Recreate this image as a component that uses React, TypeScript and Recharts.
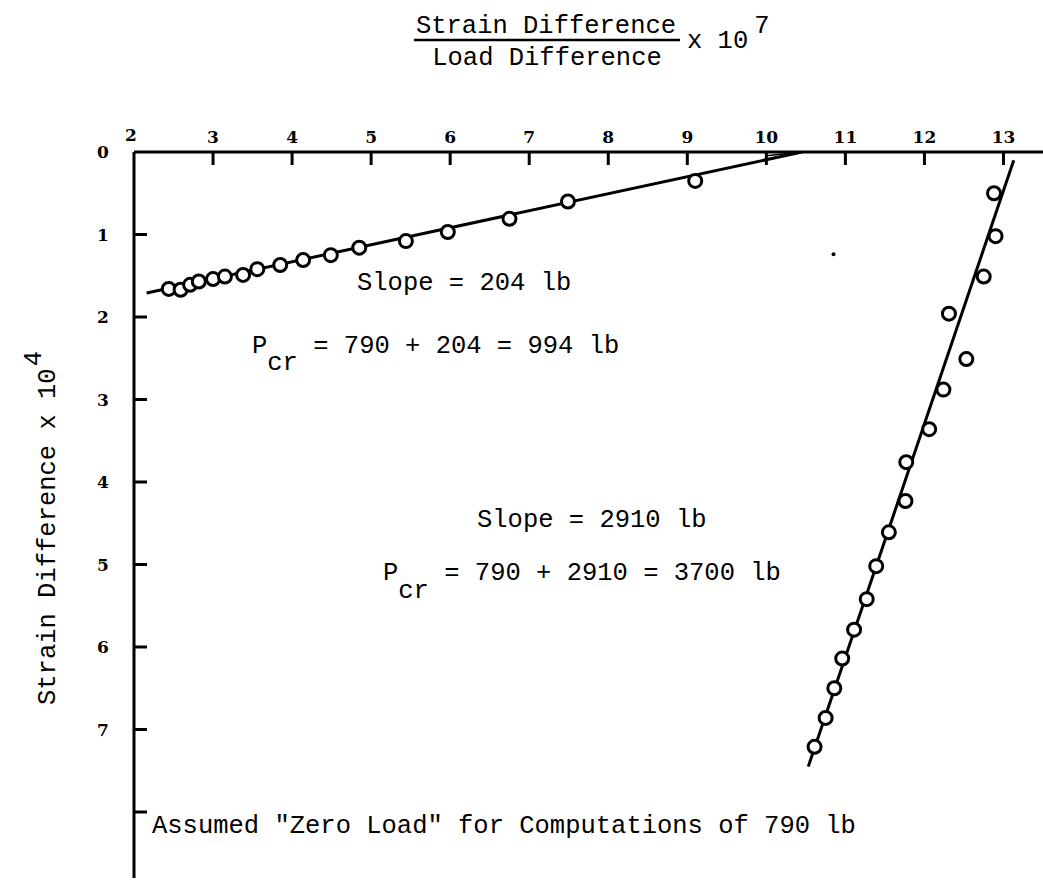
import React from 'react';
import { ComposedChart, XAxis, YAxis, Scatter } from 'recharts';

// ---- axis ticks ----
const xTicks = [2, 3, 4, 5, 6, 7, 8, 9, 10, 11, 12, 13];
const yTicks = [0, 1, 2, 3, 4, 5, 6, 7, 8];
const yTickLabels = ['0', '1', '2', '3', '4', '5', '6', '7', ''];

// ---- low-load branch (Strain diff / Load diff x 1e7 vs Strain diff x 1e4) ----
const lowX = [2.44, 2.59, 2.71, 2.82, 3.0, 3.15, 3.38, 3.56, 3.85, 4.14, 4.49, 4.85, 5.44, 5.97, 6.75, 7.49, 9.1];
const lowY = [1.66, 1.67, 1.61, 1.57, 1.54, 1.51, 1.49, 1.42, 1.37, 1.31, 1.25, 1.16, 1.08, 0.97, 0.81, 0.6, 0.35];
const lowFitX = [2.16, 10.45];
const lowFitY = [1.71, 0];
const lowTipX = [10.0, 10.45];
const lowTipY = [0.045, 0];

// ---- high-load branch ----
const highX = [12.88, 12.9, 12.75, 12.31, 12.53, 12.24, 12.06, 11.77, 11.76, 11.55, 11.39, 11.27, 11.11, 10.96, 10.86, 10.75, 10.61];
const highY = [0.5, 1.02, 1.51, 1.96, 2.51, 2.88, 3.36, 3.76, 4.23, 4.61, 5.02, 5.42, 5.79, 6.14, 6.5, 6.86, 7.21];
const highFitX = [13.13, 10.53];
const highFitY = [0.1, 7.45];

// small speck on the original sheet
const speckX = [10.85];
const speckY = [1.24];

const zip = (xs: number[], ys: number[]) => xs.map((x, i) => ({ x, y: ys[i] }));

const lowPts = zip(lowX, lowY);
const highPts = zip(highX, highY);
const lowFit = zip(lowFitX, lowFitY);
const lowTip = zip(lowTipX, lowTipY);
const highFit = zip(highFitX, highFitY);
const speck = zip(speckX, speckY);

const MONO = '"Liberation Mono", "DejaVu Sans Mono", monospace';
const TICKFONT = '"DejaVu Serif", "Liberation Serif", serif';

const XTick = (props: any) => {
  const { x, y, payload } = props;
  const v = payload.value;
  const first = v === 2;
  return (
    <g>
      {!first && <line x1={x} y1={y} x2={x} y2={y + 13} stroke="#000" strokeWidth={3} />}
      <text
        x={first ? x - 3 : x}
        y={first ? y - 11 : y - 9}
        textAnchor="middle"
        fontFamily={TICKFONT}
        fontWeight="bold"
        fontSize={17}
        fill="#000"
      >
        {v}
      </text>
    </g>
  );
};

const YTick = (props: any) => {
  const { x, y, payload, index } = props;
  const v = payload.value;
  return (
    <g>
      {v !== 0 && <line x1={x} y1={y} x2={x + 13} y2={y} stroke="#000" strokeWidth={3} />}
      <text
        x={x - 31}
        y={y + 6}
        textAnchor="middle"
        fontFamily={TICKFONT}
        fontWeight="bold"
        fontSize={17}
        fill="#000"
      >
        {yTickLabels[index] ?? ''}
      </text>
    </g>
  );
};

const OpenCircle = (props: any) => (
  <circle cx={props.cx} cy={props.cy} r={6.5} fill="#fff" stroke="#000" strokeWidth={3} />
);
const Nothing = () => <g />;
const Speck = (props: any) => <circle cx={props.cx} cy={props.cy} r={2} fill="#000" />;

export default function App() {
  return (
    <div style={{ position: 'absolute', left: 0, top: 0, width: 1043, height: 888, background: '#fff' }}>
      <ComposedChart
        width={1043}
        height={888}
        margin={{ top: 151, right: 0, bottom: 10, left: 133 }}
      >
        <XAxis
          type="number"
          dataKey="x"
          orientation="top"
          domain={[2, 13.5]}
          ticks={xTicks}
          interval={0}
          height={1}
          tickSize={0}
          tickMargin={0}
          tickLine={false}
          axisLine={{ stroke: '#000', strokeWidth: 3 }}
          tick={<XTick />}
          allowDataOverflow
        />
        <YAxis
          type="number"
          dataKey="y"
          reversed
          domain={[0, 8.8]}
          ticks={yTicks}
          interval={0}
          width={1}
          tickSize={0}
          tickMargin={0}
          tickLine={false}
          axisLine={{ stroke: '#000', strokeWidth: 3 }}
          tick={<YTick />}
          allowDataOverflow
        />
        <Scatter data={lowFit} line={{ stroke: '#000', strokeWidth: 3 }} shape={<Nothing />} isAnimationActive={false} />
        <Scatter data={lowTip} line={{ stroke: '#000', strokeWidth: 1.5 }} shape={<Nothing />} isAnimationActive={false} />
        <Scatter data={highFit} line={{ stroke: '#000', strokeWidth: 3 }} shape={<Nothing />} isAnimationActive={false} />
        <Scatter data={lowPts} shape={<OpenCircle />} isAnimationActive={false} />
        <Scatter data={highPts} shape={<OpenCircle />} isAnimationActive={false} />
        <Scatter data={speck} shape={<Speck />} isAnimationActive={false} />
      </ComposedChart>
      <svg
        width={1043}
        height={888}
        style={{ position: 'absolute', left: 0, top: 0, pointerEvents: 'none' }}
      >
        <g fontFamily={MONO} fontSize={25.5} fill="#000">
          <text x={546} y={33} textAnchor="middle">Strain Difference</text>
          <line x1={414} x2={680} y1={40} y2={40} stroke="#000" strokeWidth={2.5} />
          <text x={547} y={65} textAnchor="middle">Load Difference</text>
          <text x={687} y={48}>
            x 10<tspan dx={6} dy={-15}>7</tspan>
          </text>

          <text x={55} y={705} transform="rotate(-90 55 705)">
            Strain Difference x 10<tspan dx={2} dy={-14}>4</tspan>
          </text>

          <text x={357} y={290}>Slope = 204 lb</text>
          <text x={252} y={353}>
            P<tspan dy={17}>cr</tspan><tspan dy={-17}> = 790 + 204 = 994 lb</tspan>
          </text>

          <text x={477} y={527}>Slope = 2910 lb</text>
          <text x={383} y={580}>
            P<tspan dy={18}>cr</tspan><tspan dy={-18}> = 790 + 2910 = 3700 lb</tspan>
          </text>

          <text x={152} y={833}>Assumed "Zero Load" for Computations of 790 lb</text>
        </g>
      </svg>
    </div>
  );
}
